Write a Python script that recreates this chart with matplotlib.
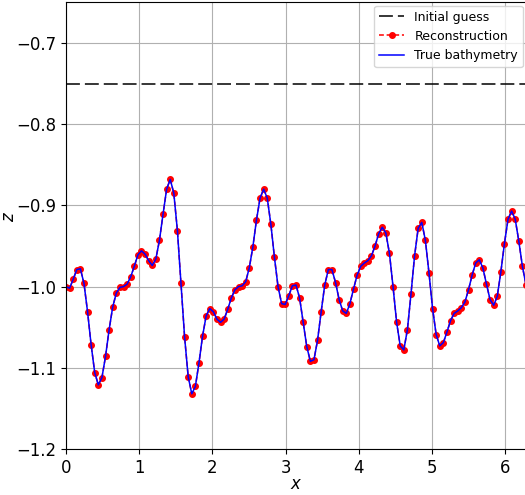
import numpy as np
import matplotlib
matplotlib.use('Agg')
import matplotlib.pyplot as plt

# 129 grid points over [0, 2pi]
n_points = 129
x = np.linspace(0, 2 * np.pi, n_points)

initial_guess = -0.75

z_recon = [
    -1.000, -1.002, -0.991, -0.979, -0.978, -0.996, -1.031, -1.072, -1.106, -1.121,
    -1.112, -1.086, -1.053, -1.025, -1.008, -1.001, -1.000, -0.997, -0.988, -0.975,
    -0.961, -0.956, -0.960, -0.968, -0.974, -0.966, -0.943, -0.911, -0.880, -0.868,
    -0.885, -0.931, -0.996, -1.062, -1.111, -1.132, -1.123, -1.094, -1.061, -1.036,
    -1.027, -1.031, -1.040, -1.044, -1.040, -1.028, -1.014, -1.004, -1.000, -0.999,
    -0.994, -0.977, -0.951, -0.918, -0.891, -0.880, -0.891, -0.923, -0.964, -1.000,
    -1.021, -1.022, -1.011, -0.999, -0.998, -1.014, -1.044, -1.074, -1.092, -1.090,
    -1.066, -1.031, -0.998, -0.979, -0.979, -0.995, -1.016, -1.030, -1.033, -1.021,
    -1.003, -0.986, -0.975, -0.971, -0.968, -0.962, -0.950, -0.935, -0.927, -0.934,
    -0.959, -1.000, -1.044, -1.073, -1.078, -1.053, -1.009, -0.962, -0.928, -0.921,
    -0.943, -0.983, -1.027, -1.059, -1.073, -1.069, -1.056, -1.042, -1.033, -1.030,
    -1.026, -1.019, -1.004, -0.986, -0.971, -0.967, -0.977, -0.997, -1.016, -1.023,
    -1.012, -0.982, -0.947, -0.917, -0.907, -0.917, -0.944, -0.975, -0.998,
]
z_true = z_recon

plt.rcParams['lines.scale_dashes'] = False

fig = plt.figure(figsize=(5.25, 4.95), dpi=100)
ax = fig.add_axes([66 / 525, 1 - 449 / 495, 460 / 525, 446.6 / 495])

ax.axhline(initial_guess, color='black', lw=1.1, dashes=(10, 3.6), label='Initial guess')
ax.plot(x, z_recon, color='red', ls='--', dashes=(3.5, 2), lw=1.1, marker='o',
        markersize=4, label='Reconstruction')
ax.plot(x, z_true, color='blue', lw=1.1, label='True bathymetry')

ax.set_xlim(0, 2 * np.pi)
ax.set_ylim(-1.2, -0.65)
ax.set_yticks([-1.2, -1.1, -1.0, -0.9, -0.8, -0.7])
ax.set_xticks([0, 1, 2, 3, 4, 5, 6])
ax.grid(True, color='#b0b0b0', lw=0.8)
ax.set_axisbelow(True)
ax.tick_params(labelsize=11.9)
ax.set_xlabel('$x$', fontsize=11.9)
ax.set_ylabel('$z$', fontsize=11.9)
ax.xaxis.set_label_coords(0.5, -0.058)
ax.yaxis.set_label_coords(-0.104, 0.52)
ax.legend(loc='upper right', fontsize=9, borderaxespad=0.25)

fig.savefig('out.png', dpi=100)
plt.close()
